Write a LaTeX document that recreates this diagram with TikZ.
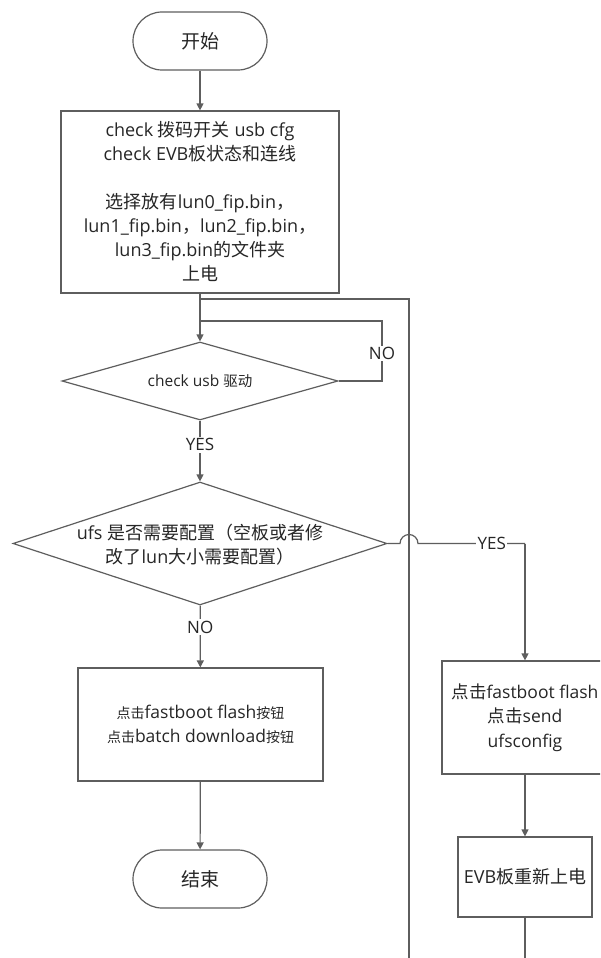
\documentclass[tikz,border=0pt]{standalone}
\usepackage{fontspec}
\setmainfont{Open Sans}
\newfontfamily\cjkfam{Noto Sans CJK SC}
\usetikzlibrary{shapes.geometric,arrows.meta}
\definecolor{ln}{HTML}{5E5E5E}
\definecolor{tx}{HTML}{262626}
% switch to the CJK family for CJK characters
\XeTeXinterchartokenstate=1
\ifdefined\newXeTeXintercharclass \newXeTeXintercharclass\cjkcls \else \chardef\cjkcls=7 \fi
\newcount\cjkcnt
\cjkcnt="3000 \loop \XeTeXcharclass\cjkcnt=\cjkcls \advance\cjkcnt 1 \ifnum\cjkcnt<"3040 \repeat
\cjkcnt="4E00 \loop \XeTeXcharclass\cjkcnt=\cjkcls \advance\cjkcnt 1 \ifnum\cjkcnt<"A000 \repeat
\cjkcnt="FF00 \loop \XeTeXcharclass\cjkcnt=\cjkcls \advance\cjkcnt 1 \ifnum\cjkcnt<"FFF0 \repeat
\def\cjkhook{}\def\lathook{}
\def\cjkswitch{\cjkfam\cjkhook}
\def\latswitch{\rmfamily\lathook}
\XeTeXinterchartoks 0 \cjkcls = {\cjkswitch}
\XeTeXinterchartoks 4095 \cjkcls = {\cjkswitch}
\XeTeXinterchartoks \cjkcls 0 = {\latswitch}
\XeTeXinterchartoks \cjkcls 4095 = {\latswitch}
\begin{document}
\begin{tikzpicture}[x=1pt,y=-1pt,
 line/.style={draw=ln, line width=1.2pt},
 arr/.style={line, -{Triangle[width=7pt,length=7pt]}},
 big/.style={font=\fontsize{18}{24}\selectfont},
 term/.style={line, rectangle, rounded corners=29pt, minimum width=134pt, minimum height=58pt, inner sep=0pt, text=tx, font=\fontsize{19}{24}\selectfont},
 box/.style={line, rectangle, inner sep=0pt, align=center, text=tx},
 dec/.style={line, diamond, inner sep=0pt},
 lab/.style={fill=white, inner sep=1.5pt, text=tx, font=\fontsize{17}{20}\selectfont}
]
\clip (0,0) rectangle (600,958);
\fill[white] (0,0) rectangle (600,958);

\node[term] (start) at (200,41) {开始};
\node[box, big, minimum width=278pt, minimum height=182pt] (b1) at (200,202)
 {check 拨码开关 usb cfg\\check EVB板状态和连线\\[24pt]选择放有lun0\_fip.bin，\\lun1\_fip.bin，lun2\_fip.bin，\\lun3\_fip.bin的文件夹\\上电};
\node[dec, minimum width=276pt, minimum height=78pt] (d1) at (200,381) {};
\node[text=tx, font={\fontsize{15.5}{24}\selectfont\def\cjkhook{\fontsize{14.5}{24}\selectfont}\def\lathook{\fontsize{15.5}{24}\selectfont}}] (d1t) at (d1) {check usb 驱动};
\node[dec, minimum width=374pt, minimum height=123pt] (d2) at (200,543.5) {};
\node[big, text=tx, align=center] (d2t) at (200,545) {ufs 是否需要配置（空板或者修\\改了lun大小需要配置）};
\node[box, minimum width=245pt, minimum height=113pt,
 font={\fontsize{17.5}{24}\selectfont\def\cjkhook{\fontsize{14}{24}\selectfont}\def\lathook{\fontsize{17.5}{24}\selectfont}}] (b2) at (200.5,724.5)
 {点击fastboot flash按钮\\点击batch download按钮};
\node[term] (end) at (200,879) {结束};
\node[box, font=\fontsize{17.5}{24.5}\selectfont, minimum width=166pt, minimum height=113pt] (b3) at (525,717.5)
 {点击fastboot flash\\点击send\\ufsconfig};
\node[box, big, minimum width=134pt, minimum height=80pt] (b4) at (525,877) {EVB板重新上电};

\coordinate (jl) at (200,299);
\coordinate (jn) at (200,321);
\coordinate (nk) at (382,381);
\coordinate (rb) at (525,975);
\coordinate (rt) at (409,299);
\coordinate (h1) at (400,543.5);
\coordinate (h2) at (418,543.5);
\coordinate (yk) at (525,543.5);

\draw[arr] (start) -- (b1);
\draw[arr] (b1) -- (d1);
\draw[line] (d1.east) -- (nk) |- node[lab, pos=0.23] {NO} (jn);
\draw[arr] (d1) -- node[lab, pos=0.4] {YES} (d2);
\draw[arr] (d2) -- node[lab, pos=0.35] {NO} (b2);
\draw[arr] (b2) -- (end);
\draw[line] (b4.south) -- (rb) -| (rt) -- (jl);
\draw[line] (d2.east) -- (h1) arc[start angle=180, end angle=0, radius=9pt] -- node[lab, pos=0.69] {YES} (yk);
\draw[arr] (yk) -- (b3);
\draw[arr] (b3) -- (b4);
\end{tikzpicture}
\end{document}
